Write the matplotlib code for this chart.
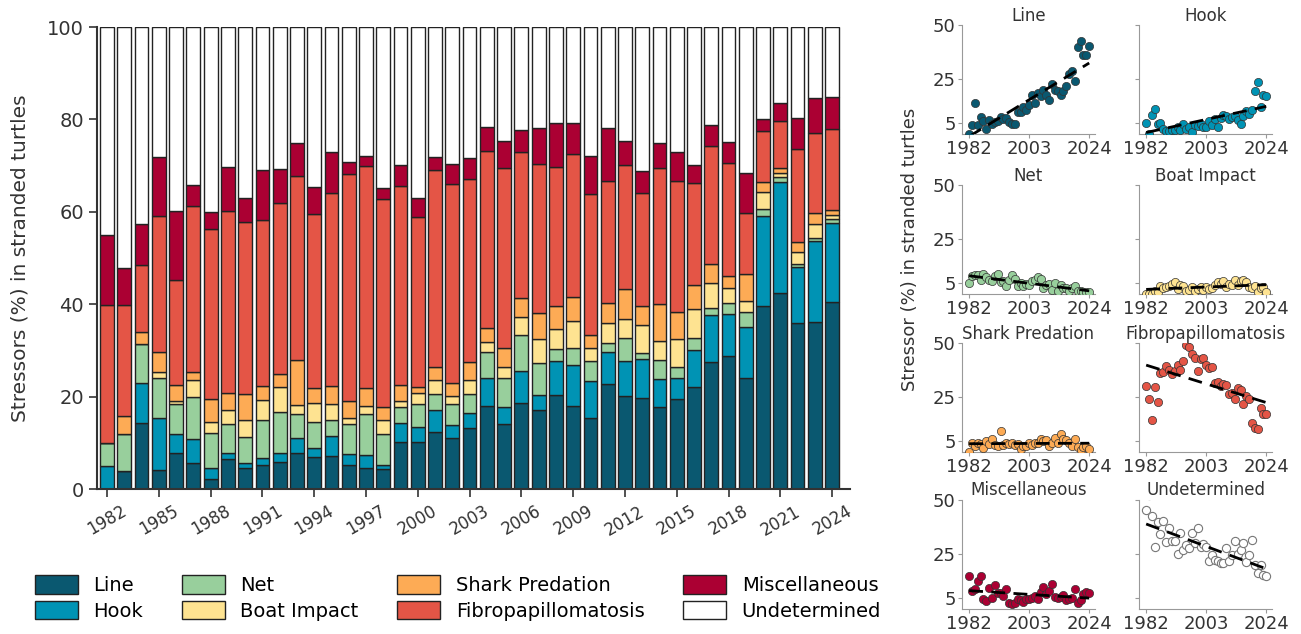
import numpy as np
import matplotlib.pyplot as plt
from matplotlib.patches import Patch

years = np.arange(1982, 2025)

line = [0, 4.0, 14.2, 4.1, 7.7, 5.7, 2.2, 6.4, 4.5, 5.2, 5.9, 7.9, 7.0, 7.1, 5.3, 4.5, 4.3, 10.1, 10.1, 12.4, 11.0,
        13.1, 18.0, 14.0, 18.7, 17.2, 20.3, 18.0, 15.3, 22.7, 20.2, 19.8, 17.7, 19.5, 22.1, 27.4, 28.8, 24.0, 39.7,
        42.5, 35.9, 36.1, 40.4]
hook = [5.0, 0, 8.7, 11.3, 4.3, 5.1, 2.4, 1.3, 1.1, 1.6, 1.8, 3.1, 1.9, 4.4, 2.2, 2.9, 0.9, 4.1, 3.4, 4.7, 2.9,
        3.3, 6.0, 3.8, 6.8, 3.1, 7.3, 8.8, 8.1, 6.9, 7.5, 8.3, 6.1, 4.6, 8.0, 10.3, 9.1, 11.0, 19.5,
        23.9, 12.2, 17.6, 17.1]
net = [4.9, 8.0, 8.4, 8.6, 6.3, 9.2, 7.6, 6.3, 5.7, 8.1, 9.0, 5.2, 5.7, 3.4, 6.5, 8.8, 6.6, 3.6, 5.0, 3.4, 4.6,
       4.1, 5.7, 6.3, 7.8, 6.9, 2.7, 3.8, 4.3, 1.9, 5.0, 1.3, 4.1, 2.4, 2.5, 1.4, 2.4, 3.4, 1.4,
       1.2, 0.7, 0.7, 0.9]
boat = [0, 0, 0, 1.4, 0.7, 3.6, 2.4, 3.1, 3.6, 4.4, 5.4, 2.0, 4.1, 3.6, 1.4, 1.8, 3.1, 1.2, 2.2, 3.2, 1.7,
        3.1, 2.2, 2.4, 4.0, 5.3, 4.3, 5.8, 2.9, 4.5, 4.1, 6.1, 4.2, 6.0, 6.3, 5.4, 3.1, 2.4, 3.6,
        0.9, 2.4, 3.0, 0.9]
shark = [0, 3.9, 2.7, 4.2, 3.6, 1.7, 4.9, 3.6, 5.7, 3.1, 2.8, 9.7, 3.1, 3.9, 3.6, 3.8, 2.9, 3.6, 1.4, 2.8, 2.7,
         3.8, 2.9, 4.0, 4.1, 5.7, 5.0, 5.2, 2.7, 4.2, 6.4, 4.2, 7.9, 5.9, 5.3, 4.2, 2.8, 5.7, 2.2,
         1.0, 2.2, 2.4, 1.1]
fibro = [30.0, 24.0, 14.5, 29.5, 22.6, 36.0, 36.7, 39.5, 37.3, 35.8, 37.1, 39.9, 37.7, 41.6, 49.1, 48.2, 44.9,
         43.0, 36.8, 42.5, 43.1, 39.6, 38.4, 38.9, 31.6, 32.1, 30.0, 30.9, 30.5, 26.5, 26.9, 24.3, 29.4, 28.3,
         22.1, 25.5, 24.3, 13.2, 11.1, 10.2, 20.1, 17.2, 17.5]
misc = [15.0, 8.0, 8.8, 12.8, 15.0, 4.5, 3.7, 9.4, 5.0, 10.8, 7.2, 7.0, 5.9, 9.0, 2.7, 2.1, 2.4, 4.5, 4.0, 2.9,
        4.3, 4.6, 5.1, 6.0, 4.6, 7.8, 9.7, 6.8, 8.3, 11.4, 5.2, 4.9, 5.4, 6.3, 3.8, 4.6, 4.7, 8.8, 2.6,
        3.9, 6.7, 7.7, 7.0]
undet = [45.1, 52.1, 42.7, 28.1, 39.8, 34.2, 40.1, 30.4, 37.1, 31.0, 30.8, 25.2, 34.6, 27.0, 29.2, 27.9, 34.9,
         29.9, 37.1, 28.1, 29.7, 28.4, 21.7, 24.6, 22.4, 21.9, 20.7, 20.7, 27.9, 21.9, 24.7, 31.1, 25.2, 27.0,
         29.9, 21.2, 24.8, 31.5, 19.9, 16.4, 19.8, 15.3, 15.1]

names = ["Line", "Hook", "Net", "Boat Impact", "Shark Predation", "Fibropapillomatosis",
         "Miscellaneous", "Undetermined"]
series = [line, hook, net, boat, shark, fibro, misc, undet]
colors = ["#0a5870", "#0093b4", "#98cf9c", "#fee391", "#fdab55", "#e45546", "#ab0033", "#ffffff"]

fig = plt.figure(figsize=(13.01, 6.34), dpi=100)

# stacked bars
ax = fig.add_axes([0.0746, 0.2287, 0.5788, 0.7287])
bottom = np.zeros(len(years))
for vals, c in zip(series, colors):
    ax.bar(years, vals, bottom=bottom, width=0.8, color=c, edgecolor="#222222", linewidth=1)
    bottom += np.array(vals)

ax.set_xlim(1981.42, 2025.04)
ax.set_ylim(0, 100)
ax.set_xticks(years[::3])
ax.set_xticklabels(years[::3], rotation=30, fontsize=12, color="#333333")
ax.set_yticks([0, 20, 40, 60, 80, 100])
ax.tick_params(axis="y", labelsize=14, colors="#333333", length=6, width=1.2)
ax.tick_params(axis="x", length=6, width=1.2, colors="#333333")
for s in ["top", "right"]:
    ax.spines[s].set_visible(False)
for s in ["left", "bottom"]:
    ax.spines[s].set_color("#333333")
    ax.spines[s].set_linewidth(1.5)
fig.text(0.0154, 0.593, "Stressors (%) in stranded turtles", rotation=90, fontsize=14.5,
         color="#333333", ha="center", va="center")

# legend
handles = [Patch(facecolor=c, edgecolor="#222222", label=n) for n, c in zip(names, colors)]
fig.legend(handles=handles, ncol=4, loc="center", bbox_to_anchor=(0.352, 0.057), fontsize=14,
           frameon=False, handlelength=2.2, handleheight=1.1, columnspacing=2.0, labelspacing=0.3)

# small scatter panels
lefts = [0.7394, 0.8755]
bottoms = [0.789, 0.5367, 0.2875, 0.0400]
for i, (name, vals, c) in enumerate(zip(names, series, colors)):
    r, k = divmod(i, 2)
    sax = fig.add_axes([lefts[k], bottoms[r], 0.1022, 0.1720])
    if name == "Undetermined":
        sax.scatter(years, vals, s=35, facecolor="white", edgecolor="#777777", linewidth=0.8, zorder=3)
    else:
        sax.scatter(years, vals, s=35, color=c, edgecolor="#333333", linewidth=0.5, zorder=3)
    fit = np.poly1d(np.polyfit(years, vals, 1))
    xf = np.linspace(1982, 2024, 100)
    sax.plot(xf, fit(xf), color="black", linestyle=(0, (5, 3)), linewidth=2, zorder=4)
    sax.set_xlim(1979.5, 2026)
    sax.set_ylim(0, 50)
    sax.set_xticks([1982, 2003, 2024])
    sax.set_yticks([5, 25, 50])
    if k == 1:
        sax.set_yticklabels([])
    sax.set_title(name, fontsize=12, color="#333333", pad=3)
    sax.tick_params(labelsize=13, colors="#999999", labelcolor="#333333", length=3, pad=1.5)
    for s in ["top", "right"]:
        sax.spines[s].set_visible(False)
    for s in ["left", "bottom"]:
        sax.spines[s].set_color("#999999")

fig.text(0.6995, 0.606, "Stressor (%) in stranded turtles", rotation=90, fontsize=13,
         color="#333333", ha="center", va="center")

plt.savefig("out.png", dpi=100)
